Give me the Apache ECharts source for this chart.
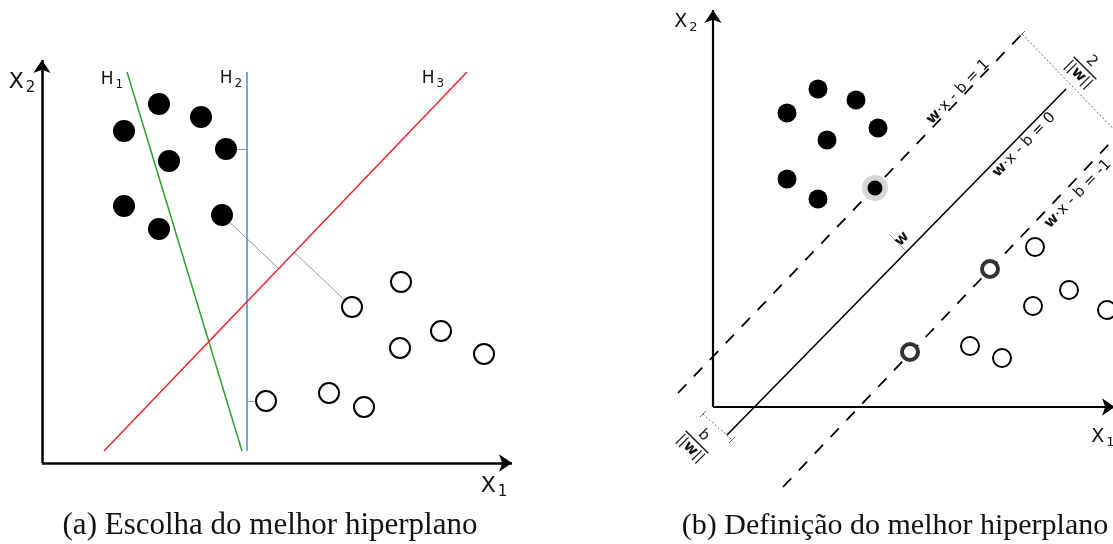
<!DOCTYPE html>
<html>
<head>
<meta charset="utf-8">
<script src="https://cdn.jsdelivr.net/npm/echarts@6/dist/echarts.min.js"></script>
<style>
  html, body { margin: 0; padding: 0; background: #fff; }
  #main { width: 1113px; height: 544px; }
</style>
</head>
<body>
<div id="main"></div>
<script>
// (a) escolha do melhor hiperplano - unidades do diagrama, origem no cruzamento dos eixos
const aFilled = [[82,332],[117,359],[159,346],[184,314],[127,302],[82,257],[117,234],[180,248]];
const aOpen = [[310,156],[359,181],[399,132],[358,115],[442,109],[224,62],[287,70],[322,56]];
const aAxes = [[[0,0],[470,0]], [[0,0],[0,403]]];
const aH1 = [[85,391],[200,12]];
const aH2 = [[205,391],[205,12]];
const aH3 = [[62,12],[425,391]];
const aLinks = [[[180,248],[236,195]], [[253,210],[310,156]], [[184,314],[205,314]], [[205,62],[224,62]]];
const aLabels = [['H','1',[70,383]], ['H','2',[189,384]], ['H','3',[391,384]]];
const aAxisNames = [['X','2',[-20,381]], ['X','1',[452,-23]]];

// (b) definicao do melhor hiperplano
const bFilled = [[105,318],[143,307],[74,294],[165,279],[114,267],[74,228],[105,208]];
const bSupportFilled = [[162,219]];
const bOpen = [[322,160],[356,117],[320,101],[394,97],[257,61],[289,49]];
const bSupportOpen = [[277,138],[197,55]];
const bAxes = [[[0,0],[402,0]], [[0,0],[0,397]]];
const bPlane = [[14,-28],[353,318]];
const bMargins = [[[-35,14],[309,373]], [[70,-80],[400,267]]];
const bDotted = [[[309,373],[410,268]], [[-10,-7],[19,-33]]];
const bTicks = [[[306,370],[312,376]], [[-13,-10],[-7,-4]], [[16,-36],[22,-30]]];
const bNormal = [[194,155],[176,173]];
const bEquations = [['1',[245,315]], ['0',[311,262]], ['-1',[365,213]]];
const bFractions = [['2',[372,339]], ['b',[-16,-35]]];
const bAxisNames = [['X','2',[-27,385]], ['X','1',[390,-30]]];

const captions = ['(a) Escolha do melhor hiperplano', '(b) Definição do melhor hiperplano'];

const chart = echarts.init(document.getElementById('main'));

function segs(list) {
  return list.map(c => ({ coords: c }));
}
function linesSeries(idx, list, style, symbol) {
  return {
    type: 'lines', coordinateSystem: 'cartesian2d', xAxisIndex: idx, yAxisIndex: idx,
    data: segs(list), silent: true,
    symbol: symbol || 'none', symbolSize: 13,
    lineStyle: Object.assign({ opacity: 1, curveness: 0 }, style)
  };
}
function dots(idx, data, size, itemStyle, z) {
  return {
    type: 'scatter', xAxisIndex: idx, yAxisIndex: idx, data: data, clip: false, silent: true,
    symbol: 'circle', symbolSize: size, itemStyle: Object.assign({ opacity: 1 }, itemStyle), z: z || 3
  };
}
function subLabels(idx, list, main) {
  return {
    type: 'scatter', xAxisIndex: idx, yAxisIndex: idx, clip: false, silent: true, symbolSize: 1,
    itemStyle: { color: 'rgba(0,0,0,0)', opacity: 1 },
    data: list.map(l => ({ value: l[2], m: l[0], s: l[1] })),
    label: {
      show: true, position: 'inside',
      formatter: p => `{m|${p.data.m}}{s|${p.data.s}}`,
      rich: {
        m: { fontSize: main, color: '#111', fontFamily: 'DejaVu Sans' },
        s: { fontSize: Math.round(main * 0.68), color: '#111', fontFamily: 'DejaVu Sans', padding: [Math.round(main * 0.6), 0, 0, 2] }
      }
    }
  };
}

const option = {
  animation: false,
  grid: [
    { left: 0, top: 40, width: 540, height: 460 },
    { left: 640, top: 0, width: 473, height: 520 }
  ],
  xAxis: [
    { type: 'value', gridIndex: 0, min: -42, max: 498, show: false },
    { type: 'value', gridIndex: 1, min: -73, max: 400, show: false }
  ],
  yAxis: [
    { type: 'value', gridIndex: 0, min: -37, max: 423, show: false },
    { type: 'value', gridIndex: 1, min: -113, max: 407, show: false }
  ],
  graphic: captions.map((t, i) => ({
    type: 'text', x: i === 0 ? 270 : 895, y: 526,
    style: { text: t, font: (i === 0 ? 31 : 30) + 'px "Liberation Serif"', fill: '#111', align: 'center', verticalAlign: 'middle' }
  })),
  series: [
    // painel (a)
    linesSeries(0, aAxes, { color: '#000', width: 2.5 }, ['none', 'arrow']),
    linesSeries(0, aLinks, { color: '#999', width: 1 }),
    { type: 'line', xAxisIndex: 0, yAxisIndex: 0, data: aH1, showSymbol: false, silent: true, lineStyle: { color: '#2ca02c', width: 1.5 } },
    { type: 'line', xAxisIndex: 0, yAxisIndex: 0, data: aH2, showSymbol: false, silent: true, lineStyle: { color: '#3a8ee6', width: 1.5 } },
    { type: 'line', xAxisIndex: 0, yAxisIndex: 0, data: aH3, showSymbol: false, silent: true, lineStyle: { color: '#f0222a', width: 1.5 } },
    dots(0, aFilled, 22, { color: '#000' }),
    dots(0, aOpen, 20, { color: '#fff', borderColor: '#000', borderWidth: 2 }),
    subLabels(0, aLabels, 17),
    subLabels(0, aAxisNames, 22),

    // painel (b)
    linesSeries(1, bAxes, { color: '#000', width: 2.2 }, ['none', 'arrow']),
    { type: 'line', xAxisIndex: 1, yAxisIndex: 1, data: bPlane, showSymbol: false, silent: true, lineStyle: { color: '#000', width: 1.6 } },
    linesSeries(1, bMargins, { color: '#000', width: 1.8, type: [12, 11] }),
    linesSeries(1, bDotted, { color: '#666', width: 1, type: [2, 2] }),
    linesSeries(1, bTicks, { color: '#666', width: 1 }),
    linesSeries(1, [bNormal], { color: '#999', width: 1 }),
    dots(1, bSupportFilled, 26, { color: '#d6d6d6' }, 2),
    dots(1, bFilled, 19, { color: '#000' }),
    dots(1, bSupportFilled, 15, { color: '#000' }),
    dots(1, bOpen, 18, { color: '#fff', borderColor: '#000', borderWidth: 2 }),
    dots(1, bSupportOpen, 16, { color: '#fff', borderColor: '#333', borderWidth: 4 }),
    subLabels(1, bAxisNames, 19),
    {
      type: 'scatter', xAxisIndex: 1, yAxisIndex: 1, clip: false, silent: true, symbolSize: 1,
      itemStyle: { color: 'rgba(0,0,0,0)', opacity: 1 },
      data: bEquations.map(e => ({ value: e[1], r: e[0] })).concat([{ value: [189, 168], r: null }]),
      label: {
        show: true, position: 'inside', rotate: 46,
        formatter: p => p.data.r === null ? '{bw|w}' : `{bw|w}{n|·x - b = ${p.data.r}}`,
        rich: {
          bw: { fontSize: 15, fontWeight: 'bold', color: '#111', fontFamily: 'DejaVu Sans' },
          n: { fontSize: 15, color: '#111', fontFamily: 'DejaVu Sans' }
        }
      }
    },
    {
      type: 'scatter', xAxisIndex: 1, yAxisIndex: 1, clip: false, silent: true, symbolSize: 1,
      itemStyle: { color: 'rgba(0,0,0,0)', opacity: 1 },
      data: bFractions.map(f => ({ value: f[1], t: f[0] })),
      label: {
        show: true, position: 'inside', rotate: -45,
        formatter: p => `{n|${p.data.t}}\n{bar| }\n{d|||}{dw|w}{d|||}`,
        rich: {
          n: { fontSize: 15, color: '#111', fontFamily: 'DejaVu Sans', align: 'center', lineHeight: 15 },
          bar: { width: 32, height: 1.4, lineHeight: 4, backgroundColor: '#111', align: 'center' },
          d: { fontSize: 14, color: '#111', fontFamily: 'DejaVu Sans', lineHeight: 15 },
          dw: { fontSize: 15, fontWeight: 'bold', color: '#111', fontFamily: 'DejaVu Sans', lineHeight: 15 }
        }
      }
    }
  ]
};

chart.setOption(option);
</script>
</body>
</html>
